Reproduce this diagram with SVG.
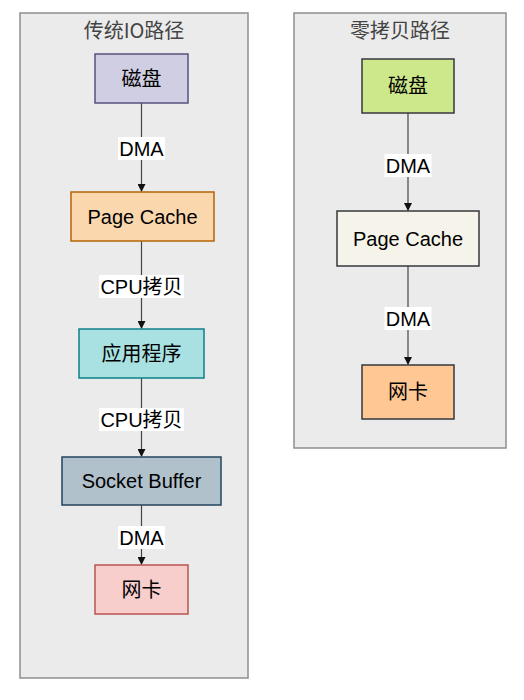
<svg xmlns="http://www.w3.org/2000/svg" width="524" height="700" viewBox="0 0 524 700">
<defs>
<style>
.grp{fill:#ebebeb;stroke:#8f8f8f;stroke-width:1.5}
.title{font-family:"Noto Sans CJK SC","Liberation Sans",sans-serif;font-size:20px;fill:#444;text-anchor:middle}
.node{stroke-width:1.5}
.t{font-family:"Liberation Sans","Noto Sans CJK SC",sans-serif;font-size:20px;fill:#000;text-anchor:middle;dominant-baseline:central}
.edge{stroke:#444;stroke-width:1.2;fill:none}
.lbl{fill:#fff}
</style>
<marker id="arr" markerWidth="8" markerHeight="8" refX="7" refY="4" orient="auto" markerUnits="userSpaceOnUse">
<path d="M0,0 L8,4 L0,8 Z" fill="#111"/>
</marker>
</defs>
<g id="group-traditional">
<rect class="grp" x="20" y="13" width="228" height="665"/>
<text class="title" x="134" y="38">传统IO路径</text>
</g>
<g id="group-zerocopy">
<rect class="grp" x="294" y="13" width="212" height="435"/>
<text class="title" x="400" y="38">零拷贝路径</text>
</g>
<g id="connectors">
<line class="edge" x1="141.5" y1="103" x2="141.5" y2="191" marker-end="url(#arr)"/>
<rect class="lbl" x="118" y="137" width="47" height="23"/>
<text class="t" x="141.5" y="149">DMA</text>
<line class="edge" x1="141.5" y1="241" x2="141.5" y2="328" marker-end="url(#arr)"/>
<rect class="lbl" x="99" y="275" width="85" height="23"/>
<text class="t" x="141.5" y="286.5">CPU拷贝</text>
<line class="edge" x1="141.5" y1="378" x2="141.5" y2="456" marker-end="url(#arr)"/>
<rect class="lbl" x="99" y="408" width="85" height="23"/>
<text class="t" x="141.5" y="420">CPU拷贝</text>
<line class="edge" x1="141.5" y1="505" x2="141.5" y2="564" marker-end="url(#arr)"/>
<rect class="lbl" x="118" y="526" width="47" height="23"/>
<text class="t" x="141.5" y="538">DMA</text>
<line class="edge" x1="408" y1="113" x2="408" y2="210" marker-end="url(#arr)"/>
<rect class="lbl" x="384.5" y="154" width="47" height="23"/>
<text class="t" x="408" y="165.5">DMA</text>
<line class="edge" x1="408" y1="266" x2="408" y2="364" marker-end="url(#arr)"/>
<rect class="lbl" x="384.5" y="307" width="47" height="23"/>
<text class="t" x="408" y="318.5">DMA</text>
</g>
<g id="node-disk-l">
<rect class="node" x="95" y="54" width="93" height="49" fill="#d0cee2" stroke="#56517e"/>
<text class="t" x="141.5" y="78.5">磁盘</text>
</g>
<g id="node-pagecache-l">
<rect class="node" x="71" y="192" width="143" height="49" fill="#fad7ac" stroke="#b46504"/>
<text class="t" x="142.5" y="216.5">Page Cache</text>
</g>
<g id="node-app">
<rect class="node" x="79" y="329" width="125" height="49" fill="#a9e0e2" stroke="#0e8088"/>
<text class="t" x="141.5" y="353.5">应用程序</text>
</g>
<g id="node-socket">
<rect class="node" x="62" y="457" width="159" height="48" fill="#b1c1cc" stroke="#23445d"/>
<text class="t" x="141.5" y="481">Socket Buffer</text>
</g>
<g id="node-nic-l">
<rect class="node" x="95" y="565" width="93" height="49" fill="#f8cecc" stroke="#b85450"/>
<text class="t" x="141.5" y="589.5">网卡</text>
</g>
<g id="node-disk-r">
<rect class="node" x="362" y="59" width="92" height="54" fill="#cde88a" stroke="#36393d"/>
<text class="t" x="408" y="86">磁盘</text>
</g>
<g id="node-pagecache-r">
<rect class="node" x="337" y="211" width="142" height="55" fill="#f6f4ea" stroke="#36393d"/>
<text class="t" x="408" y="238.5">Page Cache</text>
</g>
<g id="node-nic-r">
<rect class="node" x="362" y="365" width="92" height="54" fill="#ffc793" stroke="#36393d"/>
<text class="t" x="408" y="392">网卡</text>
</g>
</svg>
